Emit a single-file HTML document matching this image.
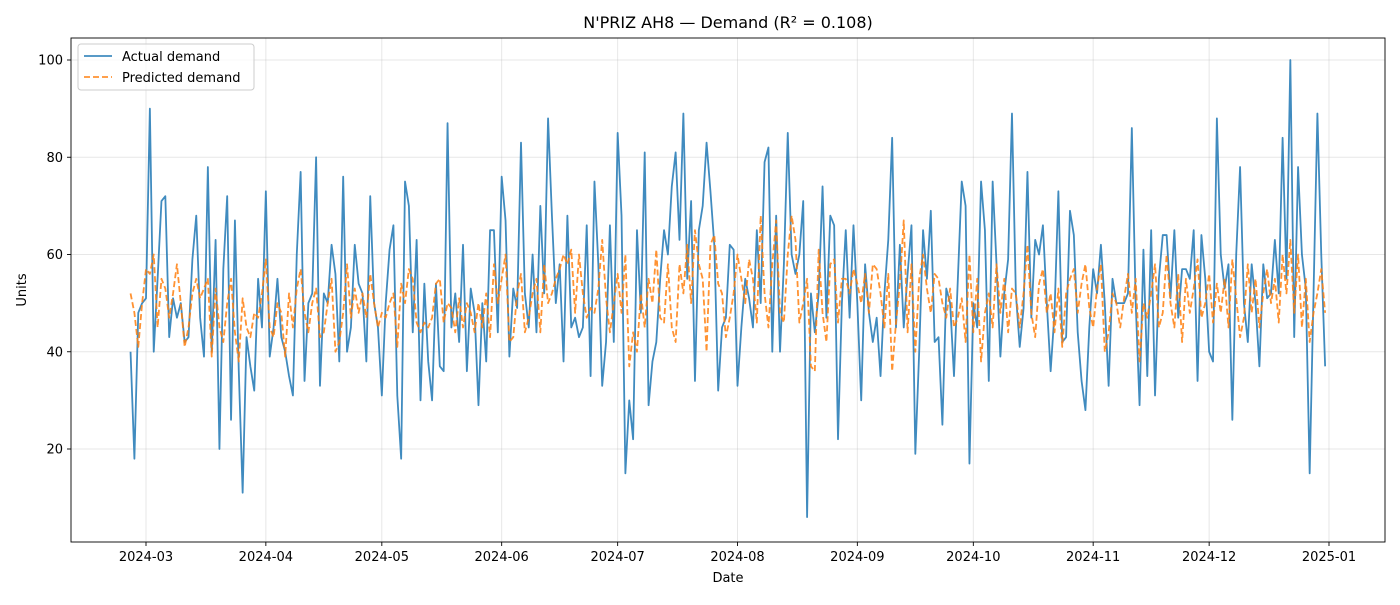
<!DOCTYPE html>
<html><head><meta charset="utf-8"><style>
body{margin:0;background:#fff;}
svg text{font-family:"DejaVu Sans","Liberation Sans",sans-serif;fill:#000;}
</style></head><body>
<svg id="chart" width="1400" height="600" xmlns="http://www.w3.org/2000/svg">
<rect width="1400" height="600" fill="#fff"/>
<g id="grid"></g>
<g id="series"></g>
<rect x="71" y="38" width="1314" height="504" fill="none" stroke="#000" stroke-width="0.9"/>
<g id="ticks"></g>
<text x="728" y="28" text-anchor="middle" font-size="16">N'PRIZ AH8 — Demand (R² = 0.108)</text>
<text x="728" y="582" text-anchor="middle" font-size="13">Date</text>
<text x="26" y="290" text-anchor="middle" font-size="13" transform="rotate(-90 26 290)">Units</text>
<g>
<rect x="78" y="44" width="176" height="46" rx="3" fill="#fff" fill-opacity="0.8" stroke="#ccc"/>
<line x1="84" y1="56" x2="112" y2="56" stroke="#1f77b4" stroke-opacity="0.85" stroke-width="1.8"/>
<text x="122" y="61" font-size="13">Actual demand</text>
<line x1="84" y1="77" x2="112" y2="77" stroke="#ff7f0e" stroke-opacity="0.85" stroke-width="1.8" stroke-dasharray="6,3"/>
<text x="122" y="82" font-size="13">Predicted demand</text>
</g>
</svg>
<script>
const startDate = "2024-02-26";
const actual = [40,18,48,50,51,90,40,55,71,72,
43,51,47,50,42,43,59,68,47,39,
78,40,63,20,57,72,26,67,36,11,
43,37,32,55,45,73,39,45,55,43,
40,35,31,60,77,34,50,52,80,33,
52,50,62,56,38,76,40,45,62,54,
52,38,72,50,45,31,50,61,66,31,
18,75,70,44,63,30,54,38,30,54,
37,36,87,45,52,42,62,36,53,48,
29,50,38,65,65,44,76,67,39,53,
49,83,52,45,60,44,70,52,88,68,
50,58,38,68,45,47,43,45,66,35,
75,58,33,42,66,42,85,68,15,30,
22,65,48,81,29,38,42,55,65,60,
74,81,63,89,55,71,34,65,70,83,
73,62,32,45,47,62,61,33,45,55,
51,45,65,50,79,82,40,68,40,58,
85,60,56,60,71,6,52,44,52,74,
47,68,66,22,50,65,47,66,50,30,
58,48,42,47,35,52,63,84,45,62,
45,56,66,19,40,65,55,69,42,43,
25,53,50,35,55,75,70,17,50,45,
75,65,34,75,58,39,52,59,89,52,
41,49,77,47,63,60,66,50,36,48,
73,42,43,69,64,44,34,28,45,57,
52,62,50,33,55,50,50,50,52,86,
50,29,61,35,65,31,55,64,64,51,
65,47,57,57,55,65,34,64,55,40,
38,88,60,53,58,26,60,78,50,42,
58,50,37,58,51,52,63,52,84,55,
100,43,78,60,53,15,52,89,60,37];
const predicted = [52,48,41,50,57,56,60,45,55,53,
47,52,58,50,41,45,52,55,51,53,
55,39,53,45,42,50,55,44,38,51,
45,43,48,47,52,59,45,43,50,48,
39,52,45,53,57,48,44,50,53,43,
44,50,55,40,42,48,58,47,53,48,
52,47,56,50,45,48,47,50,52,41,
54,50,57,55,46,44,46,45,47,54,
55,46,50,49,44,51,45,50,48,44,
50,45,52,43,58,50,55,60,42,43,
52,56,44,47,52,55,44,58,50,52,
55,57,60,58,61,48,60,52,47,49,
48,53,63,51,44,50,56,48,60,37,
44,40,52,45,55,50,61,47,46,58,
45,42,58,52,62,50,65,58,55,40,
62,64,54,52,43,47,52,60,55,50,
59,55,46,68,52,45,58,67,48,46,
60,68,63,46,50,55,37,36,61,48,
42,58,59,46,55,55,52,57,54,50,
56,48,58,57,52,45,56,36,46,54,
67,44,58,40,55,60,53,48,56,55,
50,47,53,45,47,51,42,60,44,55,
38,48,52,45,58,48,55,44,53,52,
45,52,62,48,43,54,57,48,52,44,
53,41,52,55,57,48,54,58,49,45,
53,58,40,44,52,50,45,51,56,48,
55,38,50,47,52,58,45,48,60,50,
45,56,42,55,48,53,59,47,50,56,
46,54,48,55,45,59,51,43,47,58,
48,55,45,52,57,50,55,46,60,52,
63,48,60,45,55,42,48,52,57,48];
const xTickLabels = ["2024-03","2024-04","2024-05","2024-06","2024-07","2024-08","2024-09","2024-10","2024-11","2024-12","2025-01"];
const yTicks = [20,40,60,80,100];

const NS = "http://www.w3.org/2000/svg";
const DAY = 86400000;
const ref = Date.UTC(2024,2,1);
function xScale(ms){ return 146 + (ms - ref)/DAY*3.866; }
function yScale(v){ return 546.25 - v*4.8625; }
const start = Date.parse(startDate + "T00:00:00Z");
const grid = document.getElementById('grid');
const ticks = document.getElementById('ticks');
const series = document.getElementById('series');
function mk(tag, attrs, parent){ const e=document.createElementNS(NS,tag); for(const k in attrs) e.setAttribute(k,attrs[k]); parent.appendChild(e); return e; }

xTickLabels.forEach(lbl=>{
  const ms = Date.parse(lbl + "-01T00:00:00Z");
  const x = xScale(ms);
  const g = mk('line',{x1:x,x2:x,y1:38,y2:542,stroke:'#b0b0b0','stroke-opacity':0.3,'stroke-width':1},grid);
  
  
  mk('line',{x1:x,x2:x,y1:542,y2:546,stroke:'#000','stroke-width':0.9},ticks);
  const t = mk('text',{x:x,y:561,'text-anchor':'middle','font-size':13},ticks);
  t.textContent = lbl;
  
  
});
yTicks.forEach(v=>{
  const y = yScale(v);
  const g = mk('line',{x1:71,x2:1385,y1:y,y2:y,stroke:'#b0b0b0','stroke-opacity':0.3,'stroke-width':1},grid);
  
  
  mk('line',{x1:67,x2:71,y1:y,y2:y,stroke:'#000','stroke-width':0.9},ticks);
  const t = mk('text',{x:63,y:y+4.5,'text-anchor':'end','font-size':13},ticks);
  t.textContent = v;
  
  
});
function path(vals){ return vals.map((v,i)=>(i?'L':'M')+xScale(start+i*DAY).toFixed(2)+','+yScale(v).toFixed(2)).join(''); }
const pa = mk('path',{d:path(actual),fill:'none',stroke:'#1f77b4','stroke-opacity':0.85,'stroke-width':1.8,'stroke-linejoin':'round'},series);


const pp = mk('path',{d:path(predicted),fill:'none',stroke:'#ff7f0e','stroke-opacity':0.85,'stroke-width':1.8,'stroke-dasharray':'6,3','stroke-linejoin':'round'},series);


</script>
</body></html>
